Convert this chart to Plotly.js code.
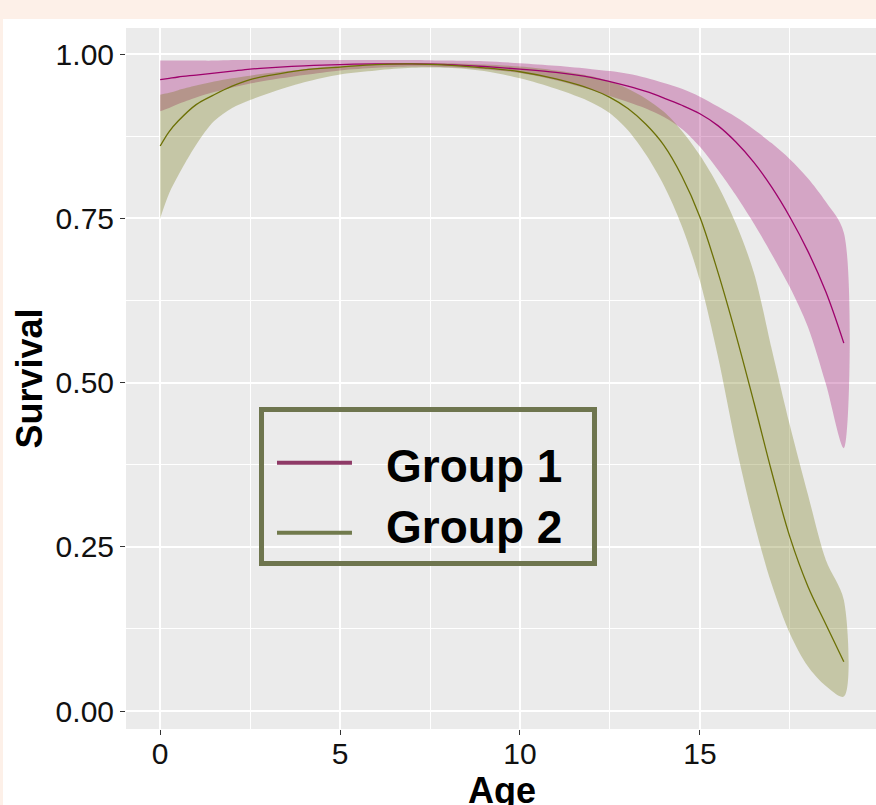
<!DOCTYPE html>
<html>
<head>
<meta charset="utf-8">
<script src="https://cdn.plot.ly/plotly-3.0.1.min.js"></script>
<style>
  html, body { margin: 0; padding: 0; background: #FDF0E8; overflow: hidden; width: 876px; height: 805px; }
  #wrap { position: absolute; left: 3px; top: 19px; width: 875px; height: 810px; background: #FFFFFF; }
  #chart { width: 875px; height: 810px; }
</style>
</head>
<body>
<div id="wrap"><div id="chart"></div></div>
<script>
// ---- data ----
const ages = [0,0.25,0.5,1,1.5,2,2.5,3,4,5,6,7,8,9,10,11,12,12.5,13,13.5,14,14.5,15,15.5,16,16.5,17,17.5,18,18.5,19];

const group1      = [0.961,0.963,0.965,0.968,0.971,0.974,0.977,0.979,0.982,0.984,0.985,0.985,0.984,0.981,0.977,0.972,0.964,0.958,0.951,0.943,0.933,0.922,0.909,0.891,0.866,0.835,0.797,0.752,0.700,0.638,0.560];
const group1Upper = [0.990,0.990,0.990,0.990,0.990,0.991,0.991,0.991,0.991,0.991,0.991,0.991,0.990,0.989,0.986,0.982,0.977,0.974,0.970,0.964,0.956,0.947,0.935,0.920,0.904,0.885,0.864,0.840,0.811,0.775,0.728];
const group1Lower = [0.913,0.918,0.924,0.934,0.942,0.949,0.955,0.960,0.968,0.975,0.979,0.981,0.980,0.977,0.971,0.960,0.945,0.936,0.927,0.917,0.904,0.886,0.859,0.824,0.785,0.742,0.695,0.645,0.585,0.498,0.400];

const group2      = [0.860,0.882,0.898,0.923,0.938,0.951,0.961,0.967,0.976,0.980,0.984,0.985,0.983,0.979,0.973,0.962,0.946,0.934,0.917,0.893,0.861,0.814,0.752,0.668,0.573,0.470,0.363,0.265,0.190,0.132,0.075];
const group2Upper = [0.938,0.941,0.945,0.952,0.958,0.963,0.967,0.971,0.977,0.982,0.985,0.986,0.986,0.984,0.981,0.975,0.966,0.958,0.947,0.932,0.912,0.883,0.846,0.800,0.742,0.667,0.550,0.435,0.330,0.230,0.169];
const group2Lower = [0.750,0.788,0.815,0.862,0.898,0.918,0.930,0.940,0.957,0.969,0.975,0.979,0.979,0.974,0.963,0.947,0.926,0.910,0.884,0.847,0.800,0.738,0.655,0.540,0.405,0.288,0.192,0.118,0.068,0.038,0.022];

const seriesNames = ["Group 1", "Group 2"];
const xTicks = [0, 5, 10, 15];
const yTicks = [0, 0.25, 0.5, 0.75, 1];
const yTickText = ["0.00", "0.25", "0.50", "0.75", "1.00"];

// ---- styling ----
const col1 = "#9E026C", col2 = "#6C7005";
const fill1 = "rgba(158,2,108,0.3)", fill2 = "rgba(108,112,5,0.3)";
const FONT = "Liberation Sans, Arial, sans-serif";

function ribbon(upper, lower, fillcolor) {
  return {
    x: ages.concat(ages.slice().reverse()),
    y: upper.concat(lower.slice().reverse()),
    type: "scatter", mode: "lines", fill: "toself", fillcolor: fillcolor,
    line: { width: 0, shape: "spline", smoothing: 0.9 }, hoverinfo: "skip", showlegend: false
  };
}
function line(y, color, name) {
  return { x: ages, y: y, type: "scatter", mode: "lines", name: name,
           line: { color: color, width: 1.3, shape: "spline", smoothing: 1 }, showlegend: false };
}

const traces = [
  ribbon(group1Upper, group1Lower, fill1),
  ribbon(group2Upper, group2Lower, fill2),
  line(group1, col1, seriesNames[0]),
  line(group2, col2, seriesNames[1])
];

// legend drawn as a box (positions in paper units)
const shapes = [
  { type: "rect", xref: "paper", yref: "paper", x0: 0.1802, x1: 0.6230, y0: 0.2361, y1: 0.4558,
    line: { color: "#6E754E", width: 5 }, fillcolor: "rgba(0,0,0,0)" },
  { type: "line", xref: "paper", yref: "paper", x0: 0.2008, x1: 0.3005, y0: 0.3799, y1: 0.3799,
    line: { color: "#8E3A66", width: 4 } },
  { type: "line", xref: "paper", yref: "paper", x0: 0.2008, x1: 0.3005, y0: 0.2800, y1: 0.2800,
    line: { color: "#717A4C", width: 4 } }
];
const annotations = [
  { xref: "paper", yref: "paper", x: 0.3430, y: 0.3752, xanchor: "left", yanchor: "middle",
    text: seriesNames[0], showarrow: false, font: { family: FONT, size: 46, weight: "bold", color: "#000" } },
  { xref: "paper", yref: "paper", x: 0.3430, y: 0.2882, xanchor: "left", yanchor: "middle",
    text: seriesNames[1], showarrow: false, font: { family: FONT, size: 46, weight: "bold", color: "#000" } }
];

const layout = {
  width: 875, height: 810,
  margin: { l: 123, r: 0, t: 9, b: 100, pad: 0 },
  paper_bgcolor: "#FFFFFF",
  plot_bgcolor: "#EBEBEB",
  showlegend: false,
  font: { family: FONT, color: "#111111" },
  xaxis: {
    range: [-0.95, 19.95], tickvals: xTicks, ticktext: xTicks.map(String),
    ticks: "outside", ticklen: 5, tickwidth: 1, tickcolor: "#333333",
    ticklabelstandoff: -7,
    showgrid: true, gridcolor: "#FFFFFF", gridwidth: 2, zeroline: false, showline: false,
    minor: { tickvals: [2.5, 7.5, 12.5, 17.5], showgrid: true, gridcolor: "#FFFFFF", gridwidth: 1, ticks: "" },
    tickfont: { family: FONT, size: 30, color: "#111111" },
    automargin: true,
    title: { text: "Age", standoff: 0, font: { family: FONT, size: 36, weight: "bold", color: "#000" } }
  },
  yaxis: {
    range: [-0.0274, 1.0396], tickvals: yTicks, ticktext: yTickText,
    ticks: "outside", ticklen: 5, tickwidth: 1, tickcolor: "#333333",
    showgrid: true, gridcolor: "#FFFFFF", gridwidth: 2, zeroline: false, showline: false,
    minor: { tickvals: [0.125, 0.375, 0.625, 0.875], showgrid: true, gridcolor: "#FFFFFF", gridwidth: 1, ticks: "" },
    tickfont: { family: FONT, size: 30, color: "#111111" },
    automargin: true,
    title: { text: "Survival", standoff: 2, font: { family: FONT, size: 36, weight: "bold", color: "#000" } }
  },
  shapes: shapes,
  annotations: annotations
};

Plotly.newPlot("chart", traces, layout, { staticPlot: true, displayModeBar: false });
</script>
</body>
</html>
